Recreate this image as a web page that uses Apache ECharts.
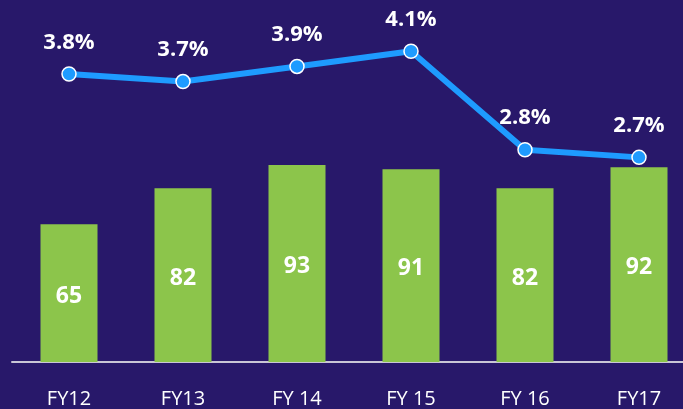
<!DOCTYPE html>
<html lang="en">
<head>
    <meta charset="UTF-8">
    <title>FY chart</title>
    <script src="https://cdn.jsdelivr.net/npm/echarts@6/dist/echarts.min.js"></script>
    <style>
        * { padding: 0; margin: 0; }
        body { background: #28186a; }
        #chart { width: 683px; height: 409px; }
    </style>
</head>
<body>
    <div id="chart"></div>
    <script type="text/javascript">
        // data
        var years = ['FY12', 'FY13', 'FY 14', 'FY 15', 'FY 16', 'FY17'];
        var barValues = [65, 82, 93, 91, 82, 92];
        var lineValues = [3.8, 3.7, 3.9, 4.1, 2.8, 2.7];

        var myChart = echarts.init(document.getElementById('chart'));

        var option = {
            backgroundColor: '#28186a',
            textStyle: { fontFamily: 'Open Sans' },
            // grid runs past the right edge, like the picture
            grid: { left: 12, right: -13, top: 2, bottom: 47, outerBoundsMode: 'none', containLabel: false },
            xAxis: {
                type: 'category',
                data: years,
                axisLine: { lineStyle: { color: '#c9c6d6', width: 2 } },
                axisTick: { show: false },
                axisLabel: { color: '#ffffff', fontSize: 20, margin: 27 }
            },
            yAxis: [
                { type: 'value', min: 0, max: 170, show: false, splitLine: { show: false } },
                { type: 'value', min: 0, max: 4.75, show: false, splitLine: { show: false } }
            ],
            series: [
                {
                    type: 'bar',
                    data: barValues,
                    barWidth: '50%',
                    itemStyle: { color: '#8cc54b' },
                    label: {
                        show: true,
                        position: 'inside',
                        offset: [0, 3],
                        color: '#ffffff',
                        fontSize: 23,
                        fontWeight: 'bold'
                    }
                },
                {
                    type: 'line',
                    yAxisIndex: 1,
                    data: lineValues,
                    symbol: 'circle',
                    symbolSize: 14,
                    lineStyle: { color: '#1e9bff', width: 6 },
                    itemStyle: { color: '#1e9bff', borderColor: '#ffffff', borderWidth: 1.5 },
                    label: {
                        show: true,
                        position: 'top',
                        distance: 13,
                        color: '#ffffff',
                        fontSize: 22,
                        fontWeight: 'bold',
                        formatter: function (p) { return p.value.toFixed(1) + '%'; }
                    },
                    z: 5
                }
            ]
        };

        myChart.setOption(option);
    </script>
</body>
</html>
